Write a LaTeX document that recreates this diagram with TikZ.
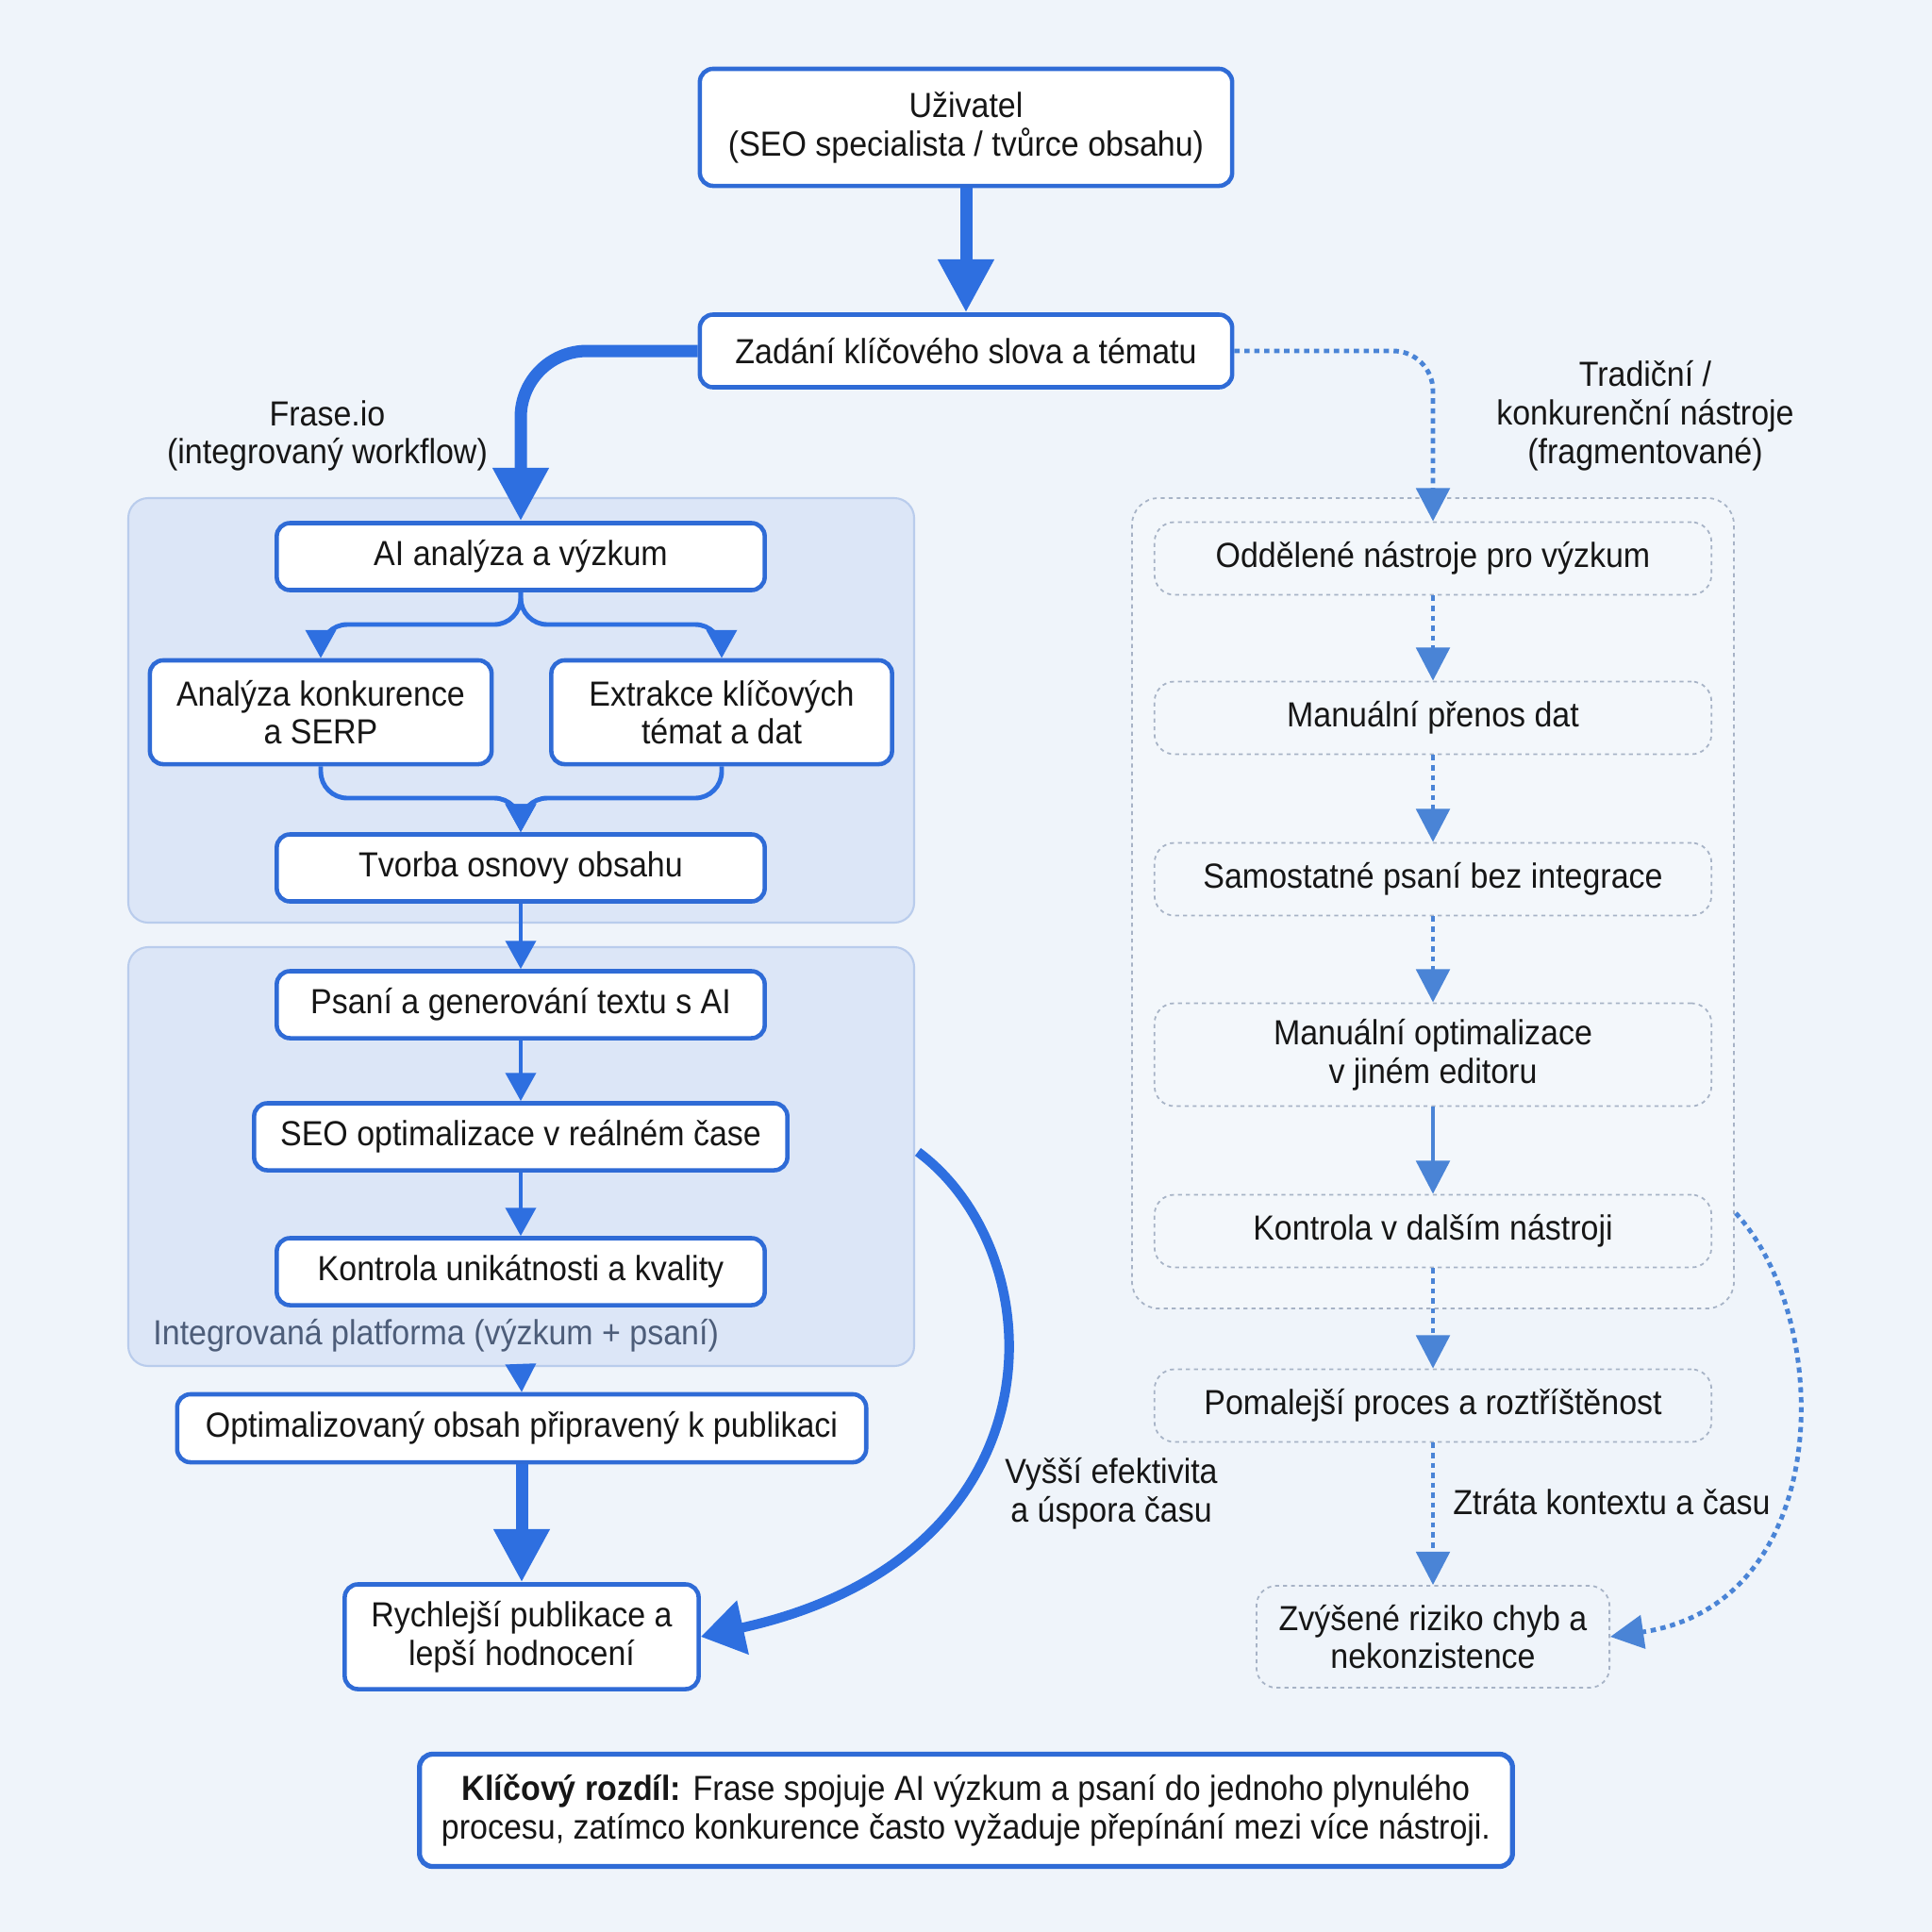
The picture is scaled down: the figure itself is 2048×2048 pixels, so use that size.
\documentclass[tikz,border=0pt]{standalone}
\usepackage{fontspec}
\setmainfont{Liberation Sans}[FakeStretch=0.92]
\usetikzlibrary{arrows.meta}

\definecolor{bgcol}{HTML}{EFF4FA}
\definecolor{boxblue}{HTML}{2F6BD6}
\definecolor{linkblue}{HTML}{2E6FE0}
\definecolor{dotblue}{HTML}{4A84D6}
\definecolor{panelfill}{HTML}{DCE6F7}
\definecolor{paneledge}{HTML}{B9CCEC}
\definecolor{dotgray}{HTML}{A7B3C6}
\definecolor{ink}{HTML}{161616}
\definecolor{notegray}{HTML}{4D5D79}

\tikzset{
  flowbox/.style={draw=boxblue, line width=1.3pt, fill=white, rounded corners=4pt,
    align=center, text=ink, inner sep=2pt},
  tradbox/.style={draw=dotgray, line width=0.5pt, dash pattern=on 1.2pt off 1.2pt,
    rounded corners=6pt, align=center, text=ink, minimum width=5.9cm, inner sep=2pt},
  panel/.style={fill=panelfill, draw=paneledge, line width=0.6pt, rounded corners=6pt},
  bigarrow/.style={linkblue, line width=3.7pt, -{Triangle[width=16pt,length=16pt]}},
  flowarrow/.style={linkblue, line width=1.4pt, -{Triangle[width=9pt,length=8.5pt]}},
  dotarrow/.style={dotblue, line width=1.4pt, dash pattern=on 1.6pt off 1.4pt,
    -{Triangle[width=10pt,length=10pt]}},
  plainlabel/.style={text=ink, align=center},
}

\begin{document}
\begin{tikzpicture}[x=0.01cm, y=-0.01cm, font=\fontsize{10.5}{11.6}\selectfont]

\fill[bgcol] (0,0) rectangle (2048,2048);
\useasboundingbox (0,0) rectangle (2048,2048);

% background panels
\draw[panel] (136,528) rectangle (969,978);
\draw[panel] (136,1004) rectangle (969,1448);
\draw[draw=dotgray, line width=0.5pt, dash pattern=on 1.2pt off 1.2pt, rounded corners=8pt,
  fill=white, fill opacity=0.3] (1200,528) rectangle (1838,1387);

% top
\node[flowbox, minimum width=5.64cm, minimum height=1.24cm] (user) at (1024,135)
  {Uživatel\\(SEO specialista / tvůrce obsahu)};
\node[flowbox, minimum width=5.64cm, minimum height=0.77cm] (topic) at (1024,372)
  {Zadání klíčového slova a tématu};

% Frase side
\node[plainlabel] (fraselbl) at (347,462) {Frase.io\\(integrovaný workflow)};
\node[flowbox, minimum width=5.17cm, minimum height=0.71cm] (research) at (552,590)
  {AI analýza a výzkum};
\node[flowbox, minimum width=3.62cm, minimum height=1.10cm] (serp) at (340,755)
  {Analýza konkurence\\a SERP};
\node[flowbox, minimum width=3.61cm, minimum height=1.10cm] (topics) at (765,755)
  {Extrakce klíčových\\témat a dat};
\node[flowbox, minimum width=5.17cm, minimum height=0.71cm] (outline) at (552,920)
  {Tvorba osnovy obsahu};
\node[flowbox, minimum width=5.17cm, minimum height=0.71cm] (writing) at (552,1065)
  {Psaní a generování textu s AI};
\node[flowbox, minimum width=5.65cm, minimum height=0.71cm] (seo) at (552,1205)
  {SEO optimalizace v reálném čase};
\node[flowbox, minimum width=5.17cm, minimum height=0.71cm] (quality) at (552,1348)
  {Kontrola unikátnosti a kvality};
\node[text=notegray, anchor=west] (platform) at (150,1416)
  {Integrovaná platforma (výzkum + psaní)};
\node[flowbox, minimum width=7.30cm, minimum height=0.72cm] (ready) at (553,1514)
  {Optimalizovaný obsah připravený k publikaci};
\node[flowbox, minimum width=3.75cm, minimum height=1.11cm] (publish) at (553,1735)
  {Rychlejší publikace a\\lepší hodnocení};
\node[plainlabel] (gainlbl) at (1178,1583) {Vyšší efektivita\\a úspora času};

% traditional side
\node[plainlabel] (tradlbl) at (1744,441)
  {Tradiční /\\konkurenční nástroje\\(fragmentované)};
\node[tradbox, minimum height=0.77cm] (separate) at (1519,592) {Oddělené nástroje pro výzkum};
\node[tradbox, minimum height=0.77cm] (transfer) at (1519,761) {Manuální přenos dat};
\node[tradbox, minimum height=0.77cm] (alone) at (1519,932) {Samostatné psaní bez integrace};
\node[tradbox, minimum height=1.09cm] (manualopt) at (1519,1118)
  {Manuální optimalizace\\v jiném editoru};
\node[tradbox, minimum height=0.77cm] (check) at (1519,1305) {Kontrola v dalším nástroji};
\node[tradbox, minimum height=0.77cm] (slow) at (1519,1490) {Pomalejší proces a roztříštěnost};
\node[tradbox, minimum width=3.74cm, minimum height=1.08cm] (risk) at (1519,1735)
  {Zvýšené riziko chyb a\\nekonzistence};
\node[plainlabel, anchor=west] (losslbl) at (1528,1592) {Ztráta kontextu a času};

% bottom note
\node[flowbox, line width=1.5pt, minimum width=11.58cm, minimum height=1.19cm] (keynote) at (1024,1919)
  {\textbf{Klíčový rozdíl:} Frase spojuje AI výzkum a psaní do jednoho plynulého\\
   procesu, zatímco konkurence často vyžaduje přepínání mezi více nástroji.};

% connectors, Frase
\coordinate (split) at (552,662);
\coordinate (merge) at (552,846);
\coordinate (panelexit) at (552,1448);
\coordinate (gainstart) at (973,1221);
\draw[bigarrow] (user) -- (topic);
\draw[bigarrow, rounded corners=20pt] (topic.west) -| (research.north);
\draw[flowarrow, rounded corners=8pt] (research.south) -- (split) -| (serp.north);
\draw[flowarrow, rounded corners=8pt] (research.south) -- (split) -| (topics.north);
\draw[flowarrow, rounded corners=8pt] (serp.south) |- (merge) -- (outline.north);
\draw[flowarrow, rounded corners=8pt] (topics.south) |- (merge) -- (outline.north);
\draw[flowarrow] (outline) -- (writing);
\draw[flowarrow] (writing) -- (seo);
\draw[flowarrow] (seo) -- (quality);
\draw[flowarrow] (panelexit) -- (ready.north);
\draw[bigarrow] (ready) -- (publish);
\draw[linkblue, line width=2.9pt, -{Triangle[width=16pt,length=13pt]}]
  (gainstart) .. controls (1120,1330) and (1130,1650) .. (publish.east);

% connectors, traditional
\coordinate (lossstart) at (1840,1286);
\draw[dotarrow, rounded corners=12pt] (topic.east) -| (separate.north);
\draw[dotarrow] (separate) -- (transfer);
\draw[dotarrow] (transfer) -- (alone);
\draw[dotarrow] (alone) -- (manualopt);
\draw[dotarrow, solid] (manualopt) -- (check);
\draw[dotarrow] (check) -- (slow);
\draw[dotarrow] (slow) -- (risk);
\draw[dotarrow] (lossstart) .. controls (1945,1400) and (1945,1700) .. (risk.east);

\end{tikzpicture}
\end{document}
